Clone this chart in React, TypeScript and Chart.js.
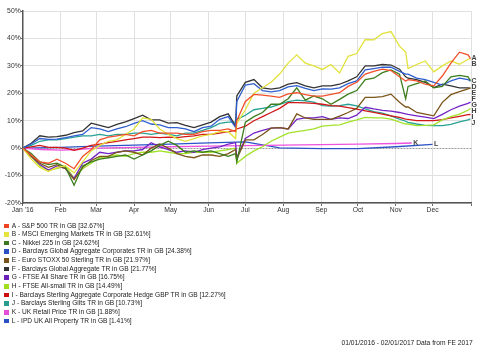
import React, { useEffect, useRef } from "react";
import { Chart, registerables } from "chart.js";

Chart.register(...registerables);

// Day index from 01/01/2016
const days = [0, 7, 14, 21, 28, 35, 42, 49, 56, 63, 70, 77, 84, 91, 98, 105, 112, 119, 126, 133, 140, 147, 154, 161, 168, 174, 175, 182, 189, 196, 203, 210, 217, 224, 231, 238, 245, 252, 259, 266, 273, 280, 287, 294, 301, 308, 313, 315, 322, 329, 336, 343, 350, 357, 364, 366];

const sp500 = [0, -2.5, -5, -5.5, -4, -5.5, -7.5, -3, -0.5, 3, 4, 4.5, 5, 4.5, 6, 6.5, 5.5, 5.5, 5.5, 5, 5, 6, 6.5, 6.5, 7, 6, 10, 17, 19.6, 19.3, 19, 18.5, 19.8, 20.2, 19.5, 19, 19, 19.6, 20.2, 22.5, 24, 27, 28, 28.8, 28.3, 26, 24.5, 25, 24.5, 23.3, 22.7, 26.3, 31, 35, 34, 32.67];
const msciEm = [0, -4, -7, -8.5, -7, -6.5, -9, -5, -1, 1, 2.5, 3, 5, 7, 11, 10.5, 7, 5, 3.5, 2.5, 3.5, 4.5, 5, 6, 6, 3.5, 9, 14, 20, 22, 24, 27, 31, 34, 31, 30, 28.7, 30.5, 27.4, 33.5, 34.5, 39.6, 39.5, 41.8, 42.5, 37.2, 35, 29, 30.5, 31.8, 27.8, 30, 31.8, 30.6, 32.4, 32.61];
const nikkei = [0, -2, -5, -6, -5.5, -7, -13.5, -6.5, -5, -4, -3.5, -3, -2.5, -4, -2.5, -1, 1, 2.5, 1, -1.5, -1, -1.5, -1, -2, -3, -2, -5, 9.5, 11.5, 13, 16, 16, 18, 22, 17.5, 19, 18, 16, 17.8, 19.7, 21, 25, 25.5, 27.5, 28.5, 27, 18, 22.5, 23.5, 24.5, 22, 22.5, 26, 26.5, 26, 24.62];
const globalCorp = [0, 1.5, 3.5, 3.2, 3.3, 3.8, 4.5, 5, 7.5, 7, 6, 7, 7.8, 9, 10, 8.8, 8.5, 7.5, 7.5, 7, 6, 7.5, 8, 10.5, 11.5, 7.5, 17, 23, 23.5, 21, 20.5, 21, 22.3, 22.8, 21.8, 21, 21.6, 21.5, 22, 23.5, 24.5, 28.5, 29, 29.5, 29.5, 28, 27, 27, 25.5, 25, 24, 23, 24.5, 25.5, 25, 24.38];
const euroStoxx = [0, -3, -5.5, -7, -6, -7.5, -11.5, -7, -4.5, -3, -3, -1.5, -1, -1.5, -2.5, 0, 1.5, 0, -2, -3, -3.5, -2.5, -2.5, -3, -2, -0.5, -4, 3, 3, 5, 7.3, 7.5, 7, 12.5, 11, 10.5, 10.5, 10.5, 11.7, 13, 14.5, 18.5, 18.5, 18.8, 19.7, 16.7, 15, 15, 13, 12.4, 11.8, 16.7, 19.5, 20.6, 21.6, 21.97];
const globalAgg = [0, 1.8, 4.5, 4, 4.2, 4.7, 5.7, 6.3, 9.1, 8.3, 7.5, 8.7, 9.6, 10.8, 12, 10.3, 10.3, 9.1, 9.3, 8.3, 7.5, 8.5, 9.5, 11.5, 12.5, 8, 19, 24, 25, 22, 21.5, 22, 23.3, 23.9, 22.7, 22, 22.7, 22.7, 23.3, 24.5, 26, 30, 30, 30.5, 30.3, 28.8, 26, 25.5, 25, 24, 22.1, 23.3, 22.7, 22, 22, 21.77];
const ftseAllShare = [0, -3, -6, -8, -6.5, -7.5, -11, -5.5, -4, -1.5, -2, -1.5, -1, -1, -0.5, 2, 0.5, -0.5, -1.5, -1, -1.5, -0.5, 0, 0.5, 1.5, 2, -3.5, 3.5, 5.5, 6.5, 7.3, 7.5, 7, 10.5, 11, 11, 11.5, 10.5, 11, 10.8, 12, 14.9, 14.3, 13.8, 13.5, 13, 12.5, 12.3, 11.8, 11.3, 10.8, 12.3, 14, 15.3, 16.3, 16.75];
const ftseAllSmall = [0, -3, -6.5, -8, -7.5, -6.5, -11, -7.5, -5.5, -3.5, -3, -2.5, -3, -2, -1.5, -1.5, -1, -1.5, -2, -2, -1.5, -1.5, -1.5, -1, -0.5, 0, -5.5, -3, -1, 0.5, 2.5, 4, 5.5, 6, 6.5, 7, 8, 8.3, 8.5, 9.5, 10.3, 11.2, 11, 11, 10.6, 9.5, 8.8, 8.8, 8.2, 8.3, 8.5, 10.3, 11.5, 12.4, 13.8, 14.49];
const sterlingCorp = [0, 0.5, 1, 0.3, 0.3, 0, -0.8, 0, 1, 1.5, 2, 2.5, 3, 3.5, 4, 4, 3.8, 4, 3.8, 4.2, 4.5, 5, 5, 5.5, 6, 6.5, 7, 8, 10, 11.5, 13, 14.5, 16.6, 16.6, 16.5, 16.3, 16, 15.5, 15.3, 14.8, 14.2, 13.6, 13, 12.4, 11.8, 11.2, 10.6, 10.5, 10, 10, 10, 10.4, 11, 11.6, 12.2, 12.27];
const sterlingGilts = [0, 1, 2.5, 3, 3, 3.5, 4, 4.5, 4.5, 5, 4.5, 5, 5, 5.5, 5.5, 5, 5.5, 5, 4.5, 5.5, 5.5, 6.5, 7.5, 9, 9.5, 9.5, 10.5, 12, 14, 14.5, 15, 16, 17, 17.5, 17.2, 16.8, 15.5, 15.3, 15.5, 16, 15.4, 14.3, 13.3, 12.8, 11.8, 10.6, 9.8, 9.4, 8.8, 8.3, 8.2, 8.2, 8.7, 9.6, 10.3, 10.73];

const rpiDays = [0, 15, 31, 45, 60, 91, 121, 152, 182, 213, 244, 274, 305, 318];
const rpiValues = [0, -0.5, -0.7, -0.5, 0, 0.3, 0.5, 0.7, 0.9, 1.1, 1.3, 1.5, 1.7, 1.88];
const propertyDays = [0, 31, 60, 91, 121, 152, 182, 196, 210, 244, 274, 305, 335];
const propertyValues = [0, 0.3, 0.7, 1.1, 1.5, 1.9, 2.3, 1.2, 0.1, -0.2, -0.2, 0.5, 1.41];

const seriesLetters = ["A", "B", "C", "D", "E", "F", "G", "H", "I", "J", "K", "L"];
const seriesNames = [
  "S&P 500 TR in GB",
  "MSCI Emerging Markets TR in GB",
  "Nikkei 225 in GB",
  "Barclays Global Aggregate Corporates TR in GB",
  "Euro STOXX 50 Sterling TR in GB",
  "Barclays Global Aggregate TR in GB",
  "FTSE All Share TR in GB",
  "FTSE All-small TR in GB",
  "Barclays Sterling Aggregate Corporate Hedge GBP TR in GB",
  "Barclays Sterling Gilts TR in GB",
  "UK Retail Price TR in GB",
  "IPD UK All Property TR in GB",
];
const seriesReturns = ["32.67%", "32.61%", "24.62%", "24.38%", "21.97%", "21.77%", "16.75%", "14.49%", "12.27%", "10.73%", "1.88%", "1.41%"];
const lineColors = ["#f2502a", "#e2e23a", "#3c7d1c", "#2f5ecf", "#7b5519", "#333333", "#7424c6", "#a3e22a", "#d21818", "#28a294", "#ee52de", "#2d54c6"];
const swatchColors = ["#ec4422", "#e4e43c", "#3a7a1c", "#2a50c2", "#7a5316", "#333333", "#6c20b8", "#9ee01e", "#cc0c0c", "#2a9c8e", "#e650d8", "#2a50c4"];

const monthDays = [0, 31, 60, 91, 121, 152, 182, 213, 244, 274, 305, 335, 367];
const monthLabels = ["Jan '16", "Feb", "Mar", "Apr", "May", "Jun", "Jul", "Aug", "Sep", "Oct", "Nov", "Dec", ""];
const yMin = -20;
const yMax = 50;
const yStep = 10;
const footerText = "01/01/2016 - 02/01/2017 Data from FE 2017";

const FONT = "'Liberation Sans', Arial, sans-serif";

const mainSeries = [sp500, msciEm, nikkei, globalCorp, euroStoxx, globalAgg, ftseAllShare, ftseAllSmall, sterlingCorp, sterlingGilts];

const zeroLine = {
  id: "zeroLine",
  beforeDatasetsDraw(chart: any) {
    const { ctx, chartArea, scales } = chart;
    const y = Math.round(scales.y.getPixelForValue(0)) + 0.5;
    ctx.save();
    ctx.strokeStyle = "#9a9a9a";
    ctx.lineWidth = 1;
    ctx.setLineDash([1.5, 1.5]);
    ctx.beginPath();
    ctx.moveTo(chartArea.left, y);
    ctx.lineTo(chartArea.right, y);
    ctx.stroke();
    ctx.restore();
  },
};

const endLabels = {
  id: "endLabels",
  afterDatasetsDraw(chart: any) {
    const ctx = chart.ctx;
    const main: any[] = [];
    const extra: any[] = [];
    chart.data.datasets.forEach((ds: any, i: number) => {
      const meta = chart.getDatasetMeta(i);
      const pts = meta.data;
      const last = pts[pts.length - 1];
      const item = { letter: ds.letter, x: last.x, y: last.y };
      if (i < mainSeries.length) main.push(item);
      else extra.push(item);
    });
    main.sort((a, b) => a.y - b.y);
    let prev = -Infinity;
    main.forEach((it) => {
      it.y = Math.max(it.y, prev + 6);
      prev = it.y;
    });
    ctx.save();
    ctx.font = `bold 7px ${FONT}`;
    ctx.fillStyle = "#444";
    ctx.textBaseline = "middle";
    ctx.textAlign = "left";
    main.forEach((it) => ctx.fillText(it.letter, it.x + 1, it.y));
    extra.forEach((it) => ctx.fillText(it.letter, it.x + 1.5, it.y));
    ctx.restore();
  },
};

function ChartView() {
  const ref = useRef<HTMLCanvasElement | null>(null);
  useEffect(() => {
    if (!ref.current) return;
    const datasets: any[] = mainSeries.map((vals, i) => ({
      label: seriesNames[i],
      letter: seriesLetters[i],
      data: vals.map((v, j) => ({ x: days[j], y: v })),
      borderColor: lineColors[i],
      backgroundColor: lineColors[i],
      borderWidth: 1.3,
      pointRadius: 0,
      tension: 0,
      fill: false,
    }));
    datasets.push({
      label: seriesNames[10],
      letter: seriesLetters[10],
      data: rpiValues.map((v, j) => ({ x: rpiDays[j], y: v })),
      borderColor: lineColors[10],
      borderWidth: 1.3,
      pointRadius: 0,
      fill: false,
    });
    datasets.push({
      label: seriesNames[11],
      letter: seriesLetters[11],
      data: propertyValues.map((v, j) => ({ x: propertyDays[j], y: v })),
      borderColor: lineColors[11],
      borderWidth: 1.3,
      pointRadius: 0,
      fill: false,
    });

    const chart = new Chart(ref.current, {
      type: "line",
      data: { datasets },
      plugins: [zeroLine, endLabels],
      options: {
        responsive: false,
        animation: false,
        devicePixelRatio: 1,
        layout: { padding: { left: 0, right: 28.3, top: 11, bottom: 140 } },
        plugins: { legend: { display: false }, tooltip: { enabled: false } },
        scales: {
          x: {
            type: "linear",
            min: monthDays[0],
            max: monthDays[monthDays.length - 1],
            afterBuildTicks: (axis: any) => {
              axis.ticks = monthDays.map((v) => ({ value: v }));
            },
            afterFit: (axis: any) => {
              axis.height = 13;
            },
            ticks: {
              autoSkip: false,
              maxRotation: 0,
              padding: 0,
              font: { family: FONT, size: 6.8 },
              color: "#333",
              callback: (v: any) => monthLabels[monthDays.indexOf(Number(v))],
            },
            grid: { color: "#e0e0e0", lineWidth: 1, tickLength: 3, tickColor: "#666" },
            border: { color: "#555", width: 1.5 },
          },
          y: {
            min: yMin,
            max: yMax,
            afterFit: (axis: any) => {
              axis.width = 22.7;
            },
            ticks: {
              stepSize: yStep,
              padding: 0,
              font: { family: FONT, size: 6.8 },
              color: "#333",
              callback: (v: any) => `${v}%`,
            },
            grid: { color: "#e0e0e0", lineWidth: 1, tickLength: 2, tickColor: "#666" },
            border: { color: "#555", width: 1.5 },
          },
        },
      } as any,
    });
    return () => chart.destroy();
  }, []);
  return <canvas ref={ref} width={500} height={356} style={{ position: "absolute", left: 0, top: 0, width: 500, height: 356 }} />;
}

export default function App() {
  return (
    <div style={{ position: "fixed", left: 0, top: 0, width: 500, height: 356, background: "#fff", overflow: "hidden", fontFamily: FONT }}>
      <ChartView />
      {seriesLetters.map((letter, i) => (
        <div
          key={letter}
          style={{
            position: "absolute",
            left: 4,
            top: 221.5 + i * 8.64,
            height: 8.64,
            lineHeight: "8.64px",
            fontSize: 6.6,
            color: "#222",
            whiteSpace: "nowrap",
            display: "flex",
            alignItems: "center",
          }}
        >
          <span style={{ display: "inline-block", width: 4.6, height: 4.6, background: swatchColors[i], marginRight: 3.2 }} />
          <span>{`${letter} - ${seriesNames[i]} [${seriesReturns[i]}]`}</span>
        </div>
      ))}
      <div
        style={{
          position: "absolute",
          right: 27.3,
          top: 339,
          fontSize: 6.7,
          lineHeight: "8px",
          color: "#222",
          whiteSpace: "nowrap",
        }}
      >
        {footerText}
      </div>
    </div>
  );
}
